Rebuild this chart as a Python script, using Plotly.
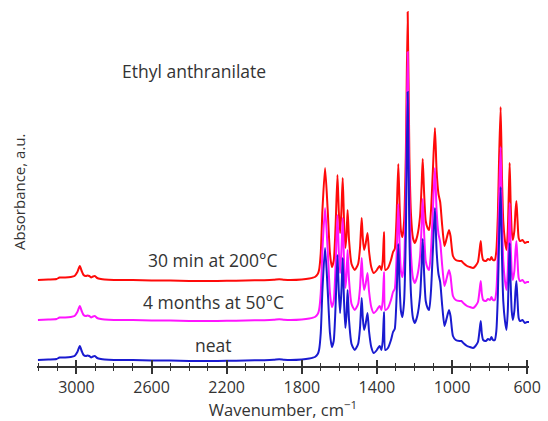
import plotly.graph_objects as go

# Wavenumber (cm^-1) sampling
wavenumber = [3205, 3150, 3106, 3090, 3060, 3030, 3010, 2995, 2982, 2972, 2962, 2950, 2940, 2932,
              2922, 2912, 2902, 2890, 2870, 2850, 2800, 2700, 2600, 2500, 2400, 2300, 2200, 2100,
              2000, 1950, 1920, 1895, 1860, 1800, 1760, 1730, 1715, 1708, 1699, 1690, 1676, 1662,
              1650, 1640, 1630, 1620, 1610, 1603, 1596, 1589, 1582, 1575, 1568, 1562, 1556, 1548,
              1535, 1518, 1500, 1490, 1481, 1475, 1468, 1460, 1450, 1442, 1430, 1417, 1400, 1394,
              1385, 1376, 1369, 1362, 1355, 1341, 1325, 1314, 1305, 1296, 1286, 1279, 1272, 1264,
              1255, 1246, 1236, 1227, 1218, 1208, 1198, 1185, 1170, 1162, 1156, 1149, 1140, 1130,
              1122, 1112, 1102, 1091, 1082, 1072, 1063, 1052, 1040, 1028, 1016, 1008, 995, 980,
              960, 950, 940, 920, 905, 888, 875, 862, 853, 847, 841, 834, 820, 808, 798, 790, 782,
              772, 764, 756, 749, 741, 734, 727, 718, 710, 703, 698, 693, 688, 682, 676, 668, 662,
              657, 651, 645, 638, 625, 612, 600, 590]

# Absorbance (a.u.) of each sample
absorbance_neat = [0.06, 0.065, 0.07, 0.085, 0.085, 0.09, 0.10, 0.14, 0.20, 0.15, 0.11, 0.10, 0.105, 0.10,
                   0.085, 0.095, 0.10, 0.08, 0.07, 0.065, 0.06, 0.06, 0.055, 0.055, 0.05, 0.05, 0.052, 0.055,
                   0.058, 0.062, 0.068, 0.063, 0.06, 0.065, 0.075, 0.09, 0.12, 0.16, 0.33, 0.76, 1.18, 0.76,
                   0.33, 0.19, 0.25, 0.60, 1.11, 0.75, 0.53, 0.75, 1.08, 0.65, 0.38, 0.50, 0.76, 0.45,
                   0.22, 0.16, 0.22, 0.38, 0.68, 0.48, 0.36, 0.42, 0.53, 0.35, 0.19, 0.13, 0.16, 0.18,
                   0.20, 0.16, 0.25, 0.54, 0.16, 0.18, 0.26, 0.34, 0.37, 0.65, 1.22, 0.80, 0.55, 0.49,
                   0.65, 1.30, 2.74, 1.30, 0.70, 0.48, 0.43, 0.50, 0.70, 1.00, 1.27, 0.95, 0.65, 0.58,
                   0.56, 0.75, 1.15, 1.58, 1.15, 0.92, 0.84, 0.60, 0.40, 0.48, 0.56, 0.50, 0.30, 0.26,
                   0.25, 0.25, 0.23, 0.20, 0.19, 0.18, 0.20, 0.24, 0.36, 0.45, 0.32, 0.26, 0.25, 0.27, 0.26, 0.29, 0.26,
                   0.26, 0.35, 0.70, 1.30, 1.79, 1.10, 0.65, 0.45, 0.36, 0.55, 0.90, 1.23, 0.85, 0.55, 0.46, 0.55, 0.75,
                   0.85, 0.65, 0.48, 0.45, 0.46, 0.43, 0.44, 0.44]

absorbance_4_months = [0.06, 0.065, 0.07, 0.085, 0.085, 0.09, 0.10, 0.14, 0.20, 0.15, 0.11, 0.10, 0.105, 0.10,
                       0.085, 0.095, 0.10, 0.08, 0.07, 0.065, 0.06, 0.06, 0.055, 0.055, 0.05, 0.05, 0.052, 0.055,
                       0.058, 0.062, 0.068, 0.063, 0.06, 0.065, 0.075, 0.09, 0.12, 0.16, 0.33, 0.76, 1.18, 0.76,
                       0.33, 0.19, 0.25, 0.60, 1.11, 0.75, 0.53, 0.75, 1.08, 0.65, 0.38, 0.50, 0.76, 0.45,
                       0.22, 0.16, 0.22, 0.38, 0.68, 0.48, 0.36, 0.42, 0.53, 0.35, 0.19, 0.13, 0.16, 0.18,
                       0.20, 0.16, 0.25, 0.54, 0.16, 0.18, 0.26, 0.34, 0.37, 0.65, 1.22, 0.80, 0.55, 0.49,
                       0.65, 1.30, 2.74, 1.30, 0.70, 0.48, 0.43, 0.50, 0.70, 1.00, 1.27, 0.95, 0.65, 0.58,
                       0.56, 0.75, 1.15, 1.58, 1.15, 0.92, 0.84, 0.60, 0.40, 0.48, 0.56, 0.50, 0.30, 0.26,
                       0.25, 0.25, 0.23, 0.20, 0.19, 0.18, 0.20, 0.24, 0.36, 0.45, 0.32, 0.26, 0.25, 0.27, 0.26, 0.29, 0.26,
                       0.26, 0.35, 0.70, 1.30, 1.79, 1.10, 0.65, 0.45, 0.36, 0.55, 0.90, 1.23, 0.85, 0.55, 0.46, 0.55, 0.75,
                       0.85, 0.65, 0.48, 0.45, 0.46, 0.43, 0.44, 0.44]

absorbance_30_min = [0.06, 0.065, 0.07, 0.085, 0.085, 0.09, 0.10, 0.14, 0.20, 0.15, 0.11, 0.10, 0.105, 0.10,
                     0.085, 0.095, 0.10, 0.08, 0.07, 0.065, 0.06, 0.06, 0.055, 0.055, 0.05, 0.05, 0.052, 0.055,
                     0.058, 0.062, 0.068, 0.063, 0.06, 0.065, 0.075, 0.09, 0.12, 0.16, 0.33, 0.76, 1.18, 0.76,
                     0.33, 0.19, 0.25, 0.60, 1.11, 0.75, 0.53, 0.75, 1.08, 0.65, 0.38, 0.50, 0.76, 0.45,
                     0.22, 0.16, 0.22, 0.38, 0.68, 0.48, 0.36, 0.42, 0.53, 0.35, 0.19, 0.13, 0.16, 0.18,
                     0.20, 0.16, 0.25, 0.54, 0.16, 0.18, 0.26, 0.34, 0.37, 0.65, 1.22, 0.80, 0.55, 0.49,
                     0.65, 1.30, 2.74, 1.30, 0.70, 0.48, 0.43, 0.50, 0.70, 1.00, 1.27, 0.95, 0.65, 0.58,
                     0.56, 0.75, 1.15, 1.58, 1.15, 0.92, 0.84, 0.60, 0.40, 0.48, 0.56, 0.50, 0.30, 0.26,
                     0.25, 0.25, 0.23, 0.20, 0.19, 0.18, 0.20, 0.24, 0.36, 0.45, 0.32, 0.26, 0.25, 0.27, 0.26, 0.29, 0.26,
                     0.26, 0.35, 0.70, 1.30, 1.79, 1.10, 0.65, 0.45, 0.36, 0.55, 0.90, 1.23, 0.85, 0.55, 0.46, 0.55, 0.75,
                     0.85, 0.65, 0.48, 0.45, 0.46, 0.43, 0.44, 0.44]

sample_labels = ["30 min at 200°C", "4 months at 50°C", "neat"]
title_text = "Ethyl anthranilate"
x_tick_values = [3000, 2600, 2200, 1800, 1400, 1000, 600]

# styles / stacking (display positions)
series = [
    (absorbance_30_min, "#ff0a0a", 0.80),
    (absorbance_4_months, "#ff14ff", 0.40),
    (absorbance_neat, "#1a1ad0", 0.0),
]

W, H = 548, 421
L, R, T, B = 37, 19, 8, 55
X_RANGE = [3210, 590]
Y_RANGE = [0, 3.58]
FONT = "Open Sans, Liberation Sans, sans-serif"
TXT = "#333333"

fig = go.Figure()
for vals, color, off in series:
    fig.add_trace(go.Scatter(
        x=wavenumber, y=[v + off for v in vals], mode="lines",
        line=dict(color=color, width=2, shape="spline", smoothing=0.6),
        showlegend=False, hoverinfo="skip"))

# helper trace for the second (inside-tick) x axis
fig.add_trace(go.Scatter(x=[], y=[], xaxis="x2", yaxis="y", showlegend=False, hoverinfo="skip"))

tick_common = dict(tickvals=x_tick_values, tickcolor="#333333", tickwidth=1.5, ticklen=6)
minor_common = dict(dtick=100, tick0=600, ticklen=3.5, tickwidth=1.2, tickcolor="#333333", showgrid=False)

fig.update_layout(
    width=W, height=H,
    margin=dict(l=L, r=R, t=T, b=B, pad=0),
    paper_bgcolor="white", plot_bgcolor="white",
    font=dict(family=FONT, color=TXT, size=16),
    xaxis=dict(range=X_RANGE, showgrid=False, zeroline=False,
               showline=True, linecolor="#333333", linewidth=1.5,
               ticks="outside", ticktext=[str(v) for v in x_tick_values],
               tickfont=dict(size=16, color=TXT),
               title=dict(text="Wavenumber, cm<sup>\u22121</sup>", font=dict(size=16.5, color=TXT), standoff=4),
               minor=dict(ticks="outside", **minor_common),
               **tick_common),
    xaxis2=dict(range=X_RANGE, overlaying="x", anchor="y", side="bottom", showgrid=False, zeroline=False,
                showline=False, showticklabels=False, ticks="inside",
                minor=dict(ticks="inside", **minor_common),
                **tick_common),
    yaxis=dict(range=Y_RANGE, showgrid=False, zeroline=False, showline=False,
               showticklabels=False, ticks=""),
)

def px_to_paper(px, py):
    return (px - L) / (W - L - R), (H - B - py) / (H - T - B)

annots = [
    (title_text, 194, 71),
    (sample_labels[0], 213, 260),
    (sample_labels[1], 213.5, 302),
    (sample_labels[2], 213.5, 345),
]
for text, px, py in annots:
    ax, ay = px_to_paper(px, py)
    fig.add_annotation(text=text, x=ax, y=ay, xref="paper", yref="paper",
                       showarrow=False, xanchor="center", yanchor="middle",
                       font=dict(size=17.5, color=TXT, family=FONT))

ax, ay = px_to_paper(19, 192)
fig.add_annotation(text="Absorbance, a.u.", x=ax, y=ay, xref="paper", yref="paper",
                   showarrow=False, textangle=-90, xanchor="center", yanchor="middle",
                   font=dict(size=15, color=TXT, family=FONT))

fig.write_html("out.html")
